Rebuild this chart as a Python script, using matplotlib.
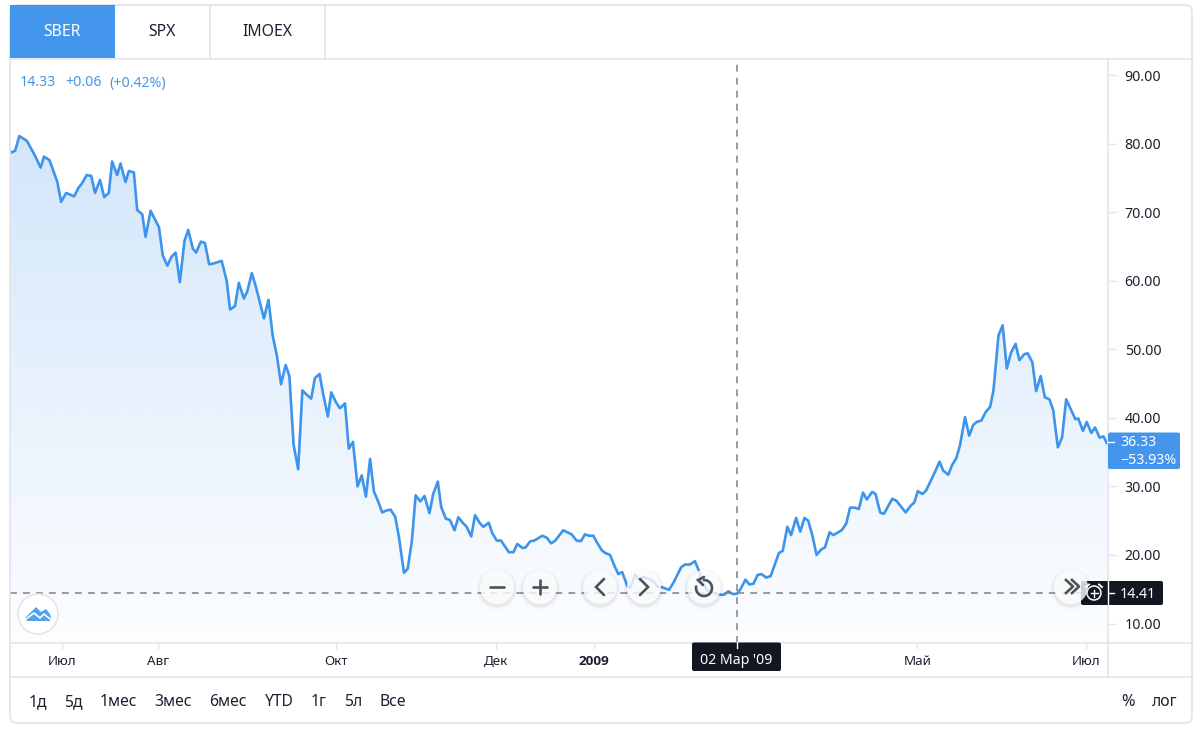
import matplotlib
matplotlib.use("Agg")
import matplotlib.pyplot as plt
import numpy as np
from matplotlib.patches import Circle, FancyBboxPatch, Polygon

plt.rcParams['font.family'] = ['Noto Sans', 'DejaVu Sans']

### data (bar number of each vertex, price at it)

bars = [
    0, 1.4, 2.4, 4.2, 6.1, 7.5, 8.3, 9.6, 11.5, 12.4, 13.6, 15.5, 16.6, 17.4, 18.5, 19.6, 20.5, 21.7, 22.7, 23.8,
    24.6, 25.8, 26.6, 27.8, 28.6, 29.8, 30.6, 31.8, 32.6, 33.8, 35.8, 36.7, 37.8, 38.8, 39.8, 40.8, 41.9, 42.8, 43.9, 44.7,
    45.8, 46.8, 47.8, 48.8, 50.8, 52.0, 52.8, 54.0, 54.9, 56.1, 56.9, 58.0, 59.0, 60.0, 60.9, 62.0, 63.0, 64.0, 65.0, 66.1,
    67.0, 68.0, 69.1, 70.1, 71.1, 72.2, 73.1, 74.2, 75.1, 76.2, 77.0, 78.2, 79.1, 80.3, 81.2, 82.2, 83.3, 84.3, 85.3, 86.3,
    87.2, 88.3, 89.2, 90.3, 91.2, 92.3, 93.2, 94.4, 95.3, 96.3, 97.2, 98.3, 99.3, 100.5, 101.4, 102.5, 103.3, 104.4, 105.4, 106.5,
    107.4, 108.6, 109.4, 110.5, 111.4, 112.6, 113.4, 114.7, 115.5, 116.6, 117.6, 119.5, 120.6, 121.5, 122.8, 123.5, 124.6, 125.6, 127.5, 128.6,
    129.6, 130.6, 132.5, 134.5, 135.7, 136.7, 137.7, 138.7, 139.7, 140.5, 141.7, 142.5, 143.7, 144.9, 145.7, 146.6, 147.8, 148.5, 149.7, 150.6,
    151.7, 153.7, 155.3, 156.1, 157.8, 158.9, 160.7, 161.6, 162.8, 164.0, 165.0, 166.0, 167.0, 168.4, 170.0, 171.0, 172.0, 173.0, 174.0, 174.8,
    176.1, 177.0, 178.0, 179.0, 180.0, 181.0, 182.1, 184.1, 185.0, 186.1, 187.0, 188.2, 189.2, 190.2, 191.1, 192.1, 193.1, 194.2, 195.1, 196.2,
    197.1, 199.1, 200.2, 201.1, 202.2, 203.2, 204.2, 205.1, 206.4, 207.2, 208.3, 209.2, 211.2, 212.2, 214.4, 215.5, 216.5, 217.3, 218.4, 219.3,
    221.4, 222.5, 223.4, 224.6, 225.5, 226.5, 227.4, 228.6, 229.6, 230.6, 231.4, 232.5, 233.5, 234.6, 235.4, 236.6, 237.6, 238.6, 239.6, 240.7,
    241.6, 242.8, 243.6, 244.7, 245.6, 246.7, 247.7, 248.8, 249.7, 250.8, 251.8, 252.8, 255.0, 255.7, 256.8, 257.7, 258.8, 259.7, 260.8, 261.7,
    262.5,
]
prices = [
    78.6, 78.95, 81.1, 80.4, 78.3, 76.5, 78.1, 77.6, 74.4, 71.5, 72.8, 72.3, 73.6, 74.2, 75.4, 75.3, 72.8, 74.7, 72.2, 72.8,
    77.4, 75.4, 77.1, 74.4, 76.0, 75.8, 70.3, 69.7, 66.4, 70.2, 67.8, 63.7, 62.2, 63.5, 64.1, 59.8, 65.8, 67.4, 64.7, 64.1,
    65.7, 65.5, 62.4, 62.5, 62.9, 60.0, 55.8, 56.3, 59.7, 57.4, 58.4, 61.1, 59.1, 56.7, 54.5, 57.2, 52.0, 49.1, 44.9, 47.7,
    46.1, 36.1, 32.5, 44.0, 43.4, 42.8, 45.8, 46.4, 43.4, 40.2, 43.7, 42.2, 41.4, 42.1, 35.5, 36.5, 30.0, 31.6, 28.5, 34.0,
    29.3, 27.7, 26.2, 26.5, 26.6, 25.6, 22.6, 17.4, 18.0, 22.1, 28.7, 27.8, 28.6, 26.1, 28.9, 30.7, 27.0, 25.3, 25.1, 23.6,
    25.5, 24.6, 24.1, 22.7, 25.8, 24.6, 24.1, 24.7, 23.2, 22.1, 22.1, 20.4, 20.4, 21.6, 21.0, 21.1, 22.0, 22.1, 22.8, 22.5,
    21.7, 22.1, 23.6, 23.0, 22.1, 22.0, 23.0, 22.8, 22.8, 21.9, 20.7, 20.3, 20.0, 18.2, 17.2, 17.5, 15.5, 15.2, 17.1, 16.3,
    16.8, 16.3, 15.3, 15.3, 14.9, 16.0, 18.2, 18.6, 18.6, 19.1, 17.6, 15.8, 14.8, 14.5, 14.2, 14.2, 14.7, 14.3, 14.33, 14.9,
    16.4, 15.7, 15.8, 17.1, 17.2, 16.7, 16.9, 20.3, 20.6, 24.1, 22.9, 25.4, 23.4, 25.4, 25.0, 22.8, 20.0, 20.8, 21.1, 23.3,
    22.9, 23.6, 24.6, 26.9, 26.9, 26.7, 29.1, 28.1, 29.2, 28.9, 26.2, 26.0, 28.2, 27.9, 26.2, 27.1, 27.7, 29.3, 28.9, 29.4,
    32.1, 33.6, 32.3, 31.7, 33.1, 34.1, 36.0, 40.1, 37.4, 39.0, 39.4, 39.6, 40.8, 41.6, 44.0, 52.0, 53.5, 47.2, 49.5, 50.8,
    48.4, 49.3, 49.4, 48.1, 43.9, 46.1, 43.0, 42.7, 41.1, 35.7, 37.1, 42.7, 39.8, 39.9, 38.1, 39.4, 37.8, 38.6, 37.1, 37.3,
    36.33,
]

month_pos = [12.6, 35.6, 78.2, 116.4, 139.9, 217.2, 257.6]
month_labels = ["Июл", "Авг", "Окт", "Дек", "2009", "Май", "Июл"]
price_ticks = [10, 20, 30, 40, 50, 60, 70, 80, 90]

tabs = ["SBER", "SPX", "IMOEX"]
ranges = ["1д", "5д", "1мес", "3мес", "6мес", "YTD", "1г", "5л", "Все"]

cursor_bar = 174.0
cursor_price = 14.41
last_price = 36.33

BLUE = "#3D94EC"
TAB_BLUE = "#4496EC"
BORDER = "#E3E5EE"
DARK = "#131722"
TEXT = "#1C2030"
ICON = "#4C525E"
CROSS = "#7D8087"

fig = plt.figure(figsize=(12, 7.33), dpi=100, facecolor="white")

### price chart

ax = fig.add_axes([10/1200, 1 - 642.5/733, 1098/1200, 583.5/733])
ymin, ymax = 7.23, 92.34
xmin, xmax = 0.17, 262.8

fill = ax.fill_between(bars, prices, ymin, color="none", linewidth=0)
shade = np.zeros((256, 1, 4))
shade[..., :3] = matplotlib.colors.to_rgb(TAB_BLUE)
shade[:, 0, 3] = np.linspace(0.24, 0.015, 256)
img = ax.imshow(shade, extent=[xmin, xmax, ymin, 81.1], origin="upper", aspect="auto", zorder=1)
img.set_clip_path(fill.get_paths()[0], transform=ax.transData)

ax.plot(bars, prices, color=BLUE, linewidth=1.9, solid_joinstyle="round", zorder=2)
ax.axvline(cursor_bar, color=CROSS, linewidth=1.1, dashes=(4.5, 4), zorder=3)
ax.axhline(cursor_price, color=CROSS, linewidth=1.1, dashes=(4.5, 4), zorder=3)

ax.set_xlim(xmin, xmax)
ax.set_ylim(ymin, ymax)
ax.yaxis.tick_right()
ax.set_yticks(price_ticks)
ax.set_yticklabels([f"{p:.2f}" for p in price_ticks], fontsize=10.2, color=TEXT)
ax.set_xticks(month_pos)
ax.set_xticklabels(month_labels, fontsize=9.7, color=TEXT)
ax.get_xticklabels()[4].set_fontfamily("Open Sans")
ax.get_xticklabels()[4].set_fontweight("bold")
ax.tick_params(axis="y", length=6, width=1, color=BORDER, pad=6)
ax.tick_params(axis="x", length=4, width=1, color=BORDER, pad=5)
for name, spine in ax.spines.items():
    spine.set_visible(name in ("bottom", "right"))
    spine.set_color(BORDER)
    spine.set_linewidth(1.2)

### everything around the chart, in picture pixels

ov = fig.add_axes([0, 0, 1, 1], facecolor="none")
ov.set_xlim(0, 1200)
ov.set_ylim(733, 0)
ov.axis("off")

ov.add_patch(FancyBboxPatch((10, 5), 1182, 718, boxstyle="round,pad=0,rounding_size=7",
                            facecolor="none", edgecolor=BORDER, linewidth=1.3))
ov.add_patch(FancyBboxPatch((10, 5), 105, 53, boxstyle="round,pad=0,rounding_size=0",
                            facecolor=TAB_BLUE, edgecolor="none"))
ov.plot([10, 1192], [58.5, 58.5], color=BORDER, linewidth=1.2)
ov.plot([10, 1192], [676.5, 676.5], color=BORDER, linewidth=1.2)
ov.plot([1108, 1108], [642, 677], color=BORDER, linewidth=1.2)
ov.plot([1108, 1192], [642.5, 642.5], color=BORDER, linewidth=1.2)
for x in (210, 325):
    ov.plot([x, x], [5, 58], color=BORDER, linewidth=1.2)

for label, x, col in zip(tabs, (61.5, 162, 267.5), ("white", TEXT, TEXT)):
    ov.text(x, 32.5, label, color=col, fontsize=11.4, ha="center", va="center")

ov.text(20, 83, "14.33", color=TAB_BLUE, fontsize=10.2, va="center")
ov.text(65, 83, "+0.06", color=TAB_BLUE, fontsize=10.2, va="center")
ov.text(109, 83, "(+0.42%)", color=TAB_BLUE, fontsize=10.2, va="center")

for label, x in zip(ranges, (38, 73, 118, 173, 228, 279, 319, 353, 393)):
    ov.text(x, 702.5, label, color=TEXT, fontsize=11.3, ha="center", va="center")
ov.text(1128, 702.5, "%", color=TEXT, fontsize=11.8, ha="center", va="center")
ov.text(1165, 702.5, "лог", color=TEXT, fontsize=11.3, ha="center", va="center")

# last price and crosshair labels
ov.add_patch(FancyBboxPatch((1108, 432.5), 72, 36.5, boxstyle="round,pad=0,rounding_size=2",
                            facecolor=TAB_BLUE, edgecolor="none"))
ov.plot([1108, 1114], [442, 442], color="white", linewidth=1)
ov.text(1120, 443, f"{last_price:.2f}", color="white", fontsize=10.2, va="center")
ov.text(1120, 460.5, "−53.93%", color="white", fontsize=10.2, va="center")

ov.add_patch(FancyBboxPatch((1081, 581), 82, 24, boxstyle="round,pad=0,rounding_size=2",
                            facecolor=DARK, edgecolor="none"))
ov.plot([1108, 1108], [581, 605], color="white", linewidth=1)
ov.plot([1109, 1114], [593, 593], color="white", linewidth=1)
ov.text(1120, 594, f"{cursor_price:.2f}", color="white", fontsize=10.2, va="center")
ov.add_patch(Circle((1094, 593), 7, facecolor="none", edgecolor="white", linewidth=1.1))
ov.plot([1090.5, 1097.5], [593, 593], color="white", linewidth=1)
ov.plot([1094, 1094], [589.5, 596.5], color="white", linewidth=1)
ov.plot([1086, 1089], [587, 584.5], color="white", linewidth=1.4)
ov.plot([1099, 1102], [584.5, 587], color="white", linewidth=1.4)

ov.add_patch(FancyBboxPatch((692, 642.5), 89, 28.5, boxstyle="round,pad=0,rounding_size=2",
                            facecolor=DARK, edgecolor="none"))
ov.plot([737, 737], [642, 648], color="white", linewidth=1)
ov.text(736.5, 660, "02 Мар '09", color="white", fontsize=10.2, ha="center", va="center")

# round buttons
for x in (497, 540, 600, 644, 704, 1071):
    for grow, alpha in ((3.5, 0.015), (2.5, 0.025), (1.2, 0.035)):
        ov.add_patch(Circle((x, 589), 17 + grow, facecolor="black", alpha=alpha, edgecolor="none"))
    ov.add_patch(Circle((x, 587), 17, facecolor="white", alpha=0.8, edgecolor="none"))

icon = dict(color=ICON, linewidth=1.9, solid_capstyle="round", solid_joinstyle="miter")
ov.plot([490, 504], [587, 587], **icon)
ov.plot([533, 547], [587, 587], **icon)
ov.plot([540, 540], [580, 594], **icon)
ov.plot([604, 596, 604], [579, 587, 595], **icon)
ov.plot([640, 648, 640], [579, 587, 595], **icon)
for x in (1066, 1072):
    ov.plot([x, x + 7, x], [580, 586.5, 593], color=ICON, linewidth=1.9)
turn = np.radians(np.linspace(-90, 190, 40))
ov.plot(704 + 8 * np.cos(turn), 588 + 8 * np.sin(turn), **icon)
ov.plot([704, 698, 703], [577, 580, 585], **icon)

# logo
ov.add_patch(Circle((38, 614), 20, facecolor="white", edgecolor="#E4E5E8", linewidth=1.2))
ov.add_patch(Polygon([(25, 618), (31, 612), (36, 607), (41, 612), (46, 609), (50, 614),
                      (51, 618), (50, 621), (27, 621)], closed=True, facecolor="#4FA3EC", edgecolor="none"))
ov.plot([26, 34, 40, 44, 50], [619, 613, 618, 614, 619], color="white", linewidth=1.2)

fig.savefig("out.png", dpi=100)
